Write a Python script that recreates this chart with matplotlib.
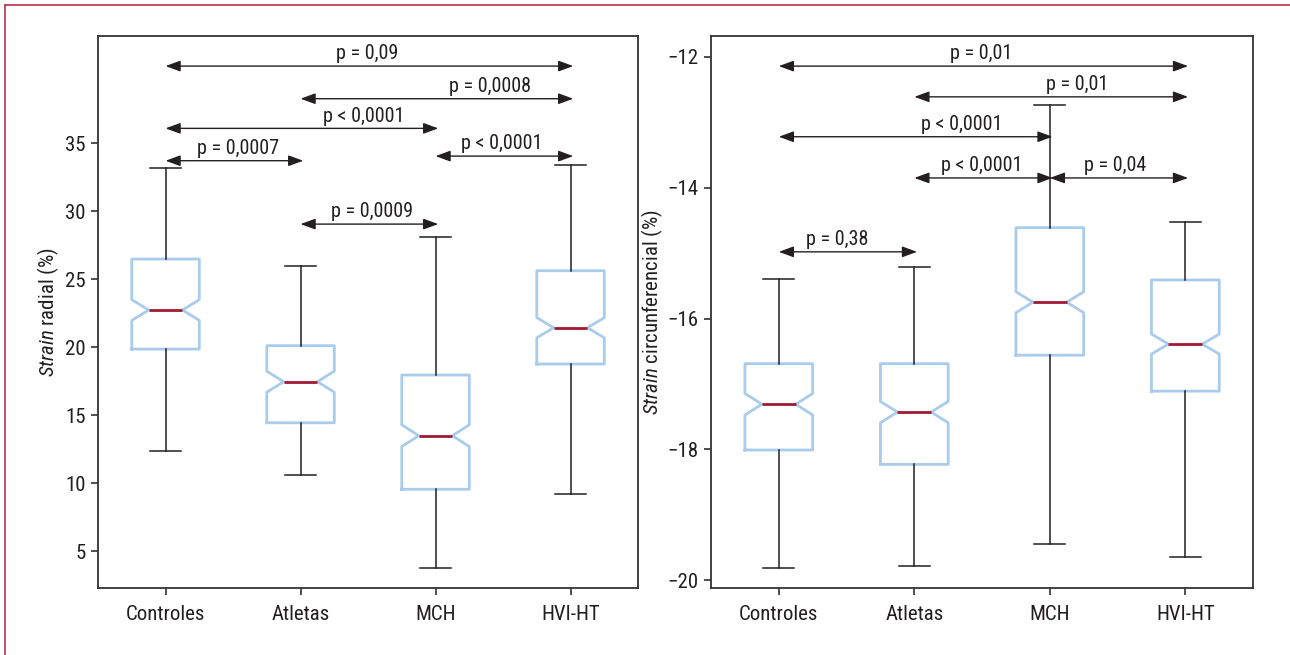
import matplotlib
matplotlib.use("Agg")
import matplotlib.pyplot as plt
from matplotlib import font_manager
from matplotlib.lines import Line2D

# fonte estreita parecida com Helvetica Condensed (usa a primeira que existir)
candidates = ['Liberation Sans Narrow', 'Roboto Condensed', 'Roboto', 'Liberation Sans']
available = {f.name for f in font_manager.fontManager.ttflist}
FONT_NAME = next((c for c in candidates if c in available), 'DejaVu Sans')
plt.rcParams['font.family'] = [FONT_NAME, 'DejaVu Sans']
plt.rcParams['mathtext.fontset'] = 'custom'
plt.rcParams['mathtext.rm'] = FONT_NAME
plt.rcParams['mathtext.it'] = FONT_NAME + ':italic'

# 1. dados
groups = ['Controles', 'Atletas', 'MCH', 'HVI-HT']

rad_whislo = [12.35, 10.59, 3.77, 9.19]
rad_q1     = [19.85, 14.43, 9.54, 18.75]
rad_med    = [22.72, 17.45, 13.48, 21.42]
rad_q3     = [26.47, 20.10, 17.94, 25.61]
rad_whishi = [33.16, 25.98, 28.11, 33.38]
rad_notch  = [0.76, 0.77, 0.80, 0.74]

circ_whislo = [-19.82, -19.78, -19.44, -19.64]
circ_q1     = [-18.01, -18.23, -16.56, -17.11]
circ_med    = [-17.31, -17.43, -15.75, -16.39]
circ_q3     = [-16.69, -16.69, -14.61, -15.41]
circ_whishi = [-15.39, -15.21, -12.74, -14.52]
circ_notch  = [0.165, 0.163, 0.16, 0.153]

# comparações: (grupo a, grupo b), altura da seta, texto, posição x do texto
rad_pairs = [(1, 4), (2, 4), (1, 3), (1, 2), (3, 4), (2, 3)]
rad_y     = [40.66, 38.26, 36.08, 33.70, 34.04, 29.04]
rad_txt   = ['p = 0,09', 'p = 0,0008', 'p < 0,0001', 'p = 0,0007', 'p < 0,0001', 'p = 0,0009']
rad_tx    = [2.49, 3.40, 2.47, 1.54, 3.49, 2.53]

circ_pairs = [(1, 4), (2, 4), (1, 3), (2, 3), (3, 4), (1, 2)]
circ_y     = [-12.14, -12.61, -13.22, -13.85, -13.85, -14.98]
circ_txt   = ['p = 0,01', 'p = 0,01', 'p < 0,0001', 'p < 0,0001', 'p = 0,04', 'p = 0,38']
circ_tx    = [2.49, 3.20, 2.35, 2.50, 3.48, 1.43]

BOX = '#a9cbec'
MED = '#9e1b32'
INK = '#231f20'
BORDER = '#c0405a'


def make_stats(wlo, q1, med, q3, whi, notch):
    stats = []
    for i in range(len(groups)):
        stats.append(dict(label=groups[i], whislo=wlo[i], q1=q1[i], med=med[i],
                          q3=q3[i], whishi=whi[i], cilo=med[i] - notch[i],
                          cihi=med[i] + notch[i], fliers=[]))
    return stats


def draw_panel(ax, stats, pairs, ys, txts, txs, ylabel, yticks, ylim, lpad):
    ax.bxp(stats, positions=[1, 2, 3, 4], widths=0.5, shownotches=True,
           showfliers=False, capwidths=0.23,
           boxprops=dict(color=BOX, linewidth=2.0),
           medianprops=dict(color=MED, linewidth=2.0),
           whiskerprops=dict(color=INK, linewidth=1.1),
           capprops=dict(color=INK, linewidth=1.1))
    for (a, b), y, t, tx in zip(pairs, ys, txts, txs):
        ax.annotate('', xy=(b + 0.02, y), xytext=(a, y),
                    arrowprops=dict(arrowstyle='<|-|>,head_length=0.6,head_width=0.22',
                                    color=INK, lw=1.0, mutation_scale=15,
                                    shrinkA=0, shrinkB=0))
        ax.annotate(t, xy=(tx, y), xytext=(0, 2), textcoords='offset points',
                    ha='center', va='bottom', fontsize=14.5, color=INK)
    ax.set_xlim(0.5, 4.5)
    ax.set_ylim(*ylim)
    ax.set_yticks(yticks)
    ax.set_xticks([1, 2, 3, 4])
    ax.set_xticklabels(groups)
    ax.set_ylabel(ylabel, fontsize=15, color=INK, labelpad=lpad)
    ax.tick_params(direction='out', length=5, width=1.1, colors=INK,
                   labelsize=15, pad=4)
    ax.tick_params(axis='x', pad=7)
    for s in ax.spines.values():
        s.set_color('#333333')
        s.set_linewidth(1.3)


fig = plt.figure(figsize=(12.9, 6.55), dpi=100)
ax1 = fig.add_axes([0.076, 0.1023, 0.4186, 0.8427])
ax2 = fig.add_axes([0.5512, 0.1023, 0.4202, 0.8427])

draw_panel(ax1, make_stats(rad_whislo, rad_q1, rad_med, rad_q3, rad_whishi, rad_notch),
           rad_pairs, rad_y, rad_txt, rad_tx,
           r'$\it{Strain}$ radial (%)', [5, 10, 15, 20, 25, 30, 35], (2.28, 42.87), 3)
draw_panel(ax2, make_stats(circ_whislo, circ_q1, circ_med, circ_q3, circ_whishi, circ_notch),
           circ_pairs, circ_y, circ_txt, circ_tx,
           r'$\it{Strain}$ circunferencial (%)', [-20, -18, -16, -14, -12], (-20.12, -11.68), 2)

# moldura vermelha (só topo e esquerda visíveis)
fig.add_artist(Line2D([4.5 / 1290, 1.0], [1 - 4.5 / 655, 1 - 4.5 / 655],
                      transform=fig.transFigure, color=BORDER, lw=1.3))
fig.add_artist(Line2D([4.5 / 1290, 4.5 / 1290], [0.0, 1 - 4.5 / 655],
                      transform=fig.transFigure, color=BORDER, lw=1.3))

fig.savefig('out.png', dpi=100)
